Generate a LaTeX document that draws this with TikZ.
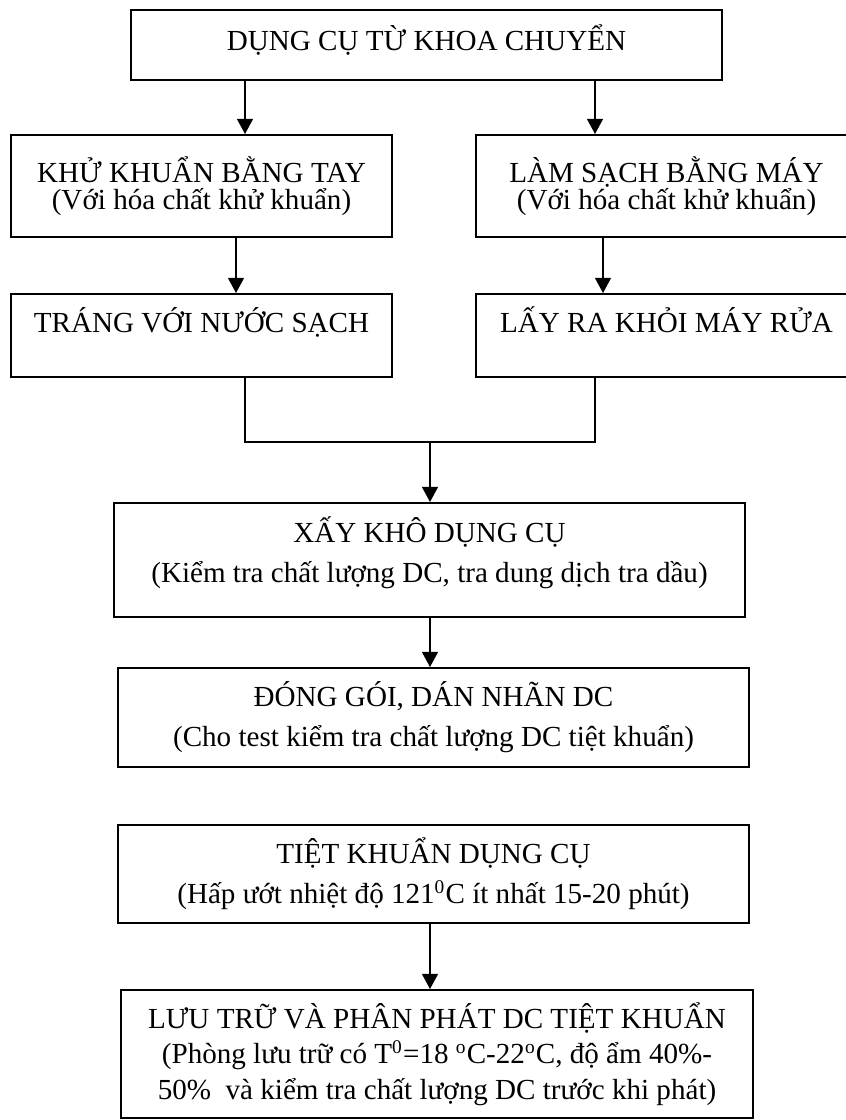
\documentclass[tikz,border=0pt]{standalone}
\usepackage{fontspec}
\setmainfont{Liberation Serif}
\usetikzlibrary{arrows.meta}
\newcommand{\pxu}{0.0145cm}

\begin{document}
\begin{tikzpicture}[x=0.0145cm, y=-0.0145cm,
 box/.style={draw, line width=0.8pt, align=center, inner sep=0pt, font=\fontsize{12}{16.5}\selectfont},
 tight/.style={font=\fontsize{12}{11.2}\selectfont},
 link/.style={line width=0.8pt},
 arr/.style={link, -{Triangle[length=0.22cm, width=0.23cm]}}]
 \useasboundingbox (0,0) rectangle (846,1120);
 \node[box, minimum width=591*\pxu, text height=0.587cm, text depth=0.428cm] (top) at (426.5,45){DỤNG CỤ TỪ KHOA CHUYỂN};
 \node[box, tight, minimum width=381*\pxu, minimum height=102*\pxu] (manual) at (201.5,186){KHỬ KHUẨN BẰNG TAY\\(Với hóa chất khử khuẩn)};
 \node[box, tight, minimum width=381*\pxu, minimum height=102*\pxu] (machine) at (666.5,186){LÀM SẠCH BẰNG MÁY\\(Với hóa chất khử khuẩn)};
 \node[box, minimum width=381*\pxu, text height=0.558cm, text depth=0.645cm] (rinse) at (201.5,335.5){TRÁNG VỚI NƯỚC SẠCH};
 \node[box, minimum width=381*\pxu, text height=0.558cm, text depth=0.645cm] (unload) at (666.5,335.5){LẤY RA KHỎI MÁY RỬA};
 \node[box, minimum width=631*\pxu, minimum height=114*\pxu] (dry) at (429.5,560){XẤY KHÔ DỤNG CỤ\\(Kiểm tra chất lượng DC, tra dung dịch tra dầu)\\[-8pt]\mbox{}};
 \node[box, minimum width=631*\pxu, minimum height=99*\pxu] (pack) at (433.5,717.5){ĐÓNG GÓI, DÁN NHÃN DC\\(Cho test kiểm tra chất lượng DC tiệt khuẩn)};
 \node[box, minimum width=631*\pxu, minimum height=98*\pxu] (steril) at (433.5,874){TIỆT KHUẨN DỤNG CỤ\\(Hấp ướt nhiệt độ 121\textsuperscript{0}C ít nhất 15-20 phút)};
 \node[box, font=\fontsize{12}{14.6}\selectfont, minimum width=632*\pxu, minimum height=128*\pxu] (store) at (437,1054){LƯU TRỮ VÀ PHÂN PHÁT DC TIỆT KHUẨN\\(Phòng lưu trữ có T\textsuperscript{0}=18 \textsuperscript{o}C-22\textsuperscript{o}C, độ ẩm 40\%-\\50\%\ \ và kiểm tra chất lượng DC trước khi phát)};
 \coordinate (xl) at (245,0);
 \coordinate (xr) at (595,0);
 \coordinate (xl2) at (236,0);
 \coordinate (xr2) at (603,0);
 \coordinate (join) at (430,442);
 \draw[arr] (top.south -| xl) -- (manual.north -| xl);
 \draw[arr] (top.south -| xr) -- (machine.north -| xr);
 \draw[arr] (manual.south -| xl2) -- (rinse.north -| xl2);
 \draw[arr] (machine.south -| xr2) -- (unload.north -| xr2);
 \draw[link] (rinse.south -| xl) |- (join) -| (unload.south -| xr);
 \draw[arr] (join) -- (dry.north -| join);
 \draw[arr] (dry.south -| join) -- (pack.north -| join);
 \draw[arr] (steril.south -| join) -- (store.north -| join);
\end{tikzpicture}
\end{document}
